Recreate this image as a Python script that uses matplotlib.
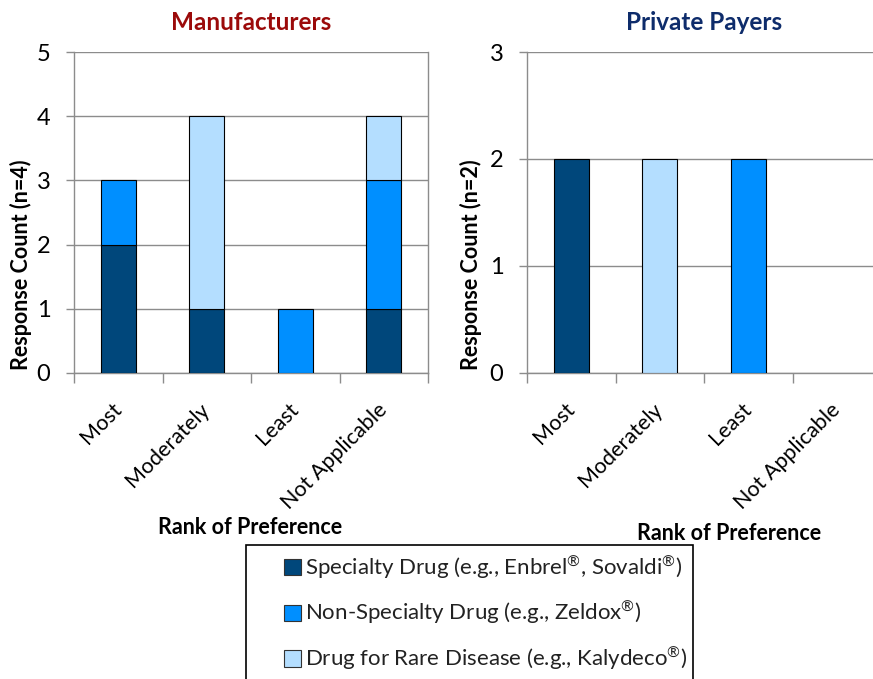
import numpy as np
import matplotlib.pyplot as plt
from matplotlib.patches import Patch, Rectangle

plt.rcParams['font.family'] = ['Lato', 'DejaVu Sans']
plt.rcParams['mathtext.fontset'] = 'custom'
plt.rcParams['mathtext.rm'] = 'Lato'

ranks = ["Most", "Moderately", "Least", "Not Applicable"]
series_names = [
    r"Specialty Drug (e.g., Enbrel$^{\mathrm{\circledR}}$, Sovaldi$^{\mathrm{\circledR}}$)",
    r"Non-Specialty Drug (e.g., Zeldox$^{\mathrm{\circledR}}$)",
    r"Drug for Rare Disease (e.g., Kalydeco$^{\mathrm{\circledR}}$)",
]
colors = ["#00477B", "#008FFF", "#B4DEFF"]

# Manufacturers (n=4)
mfr_specialty = [2, 1, 0, 1]
mfr_nonspecialty = [1, 0, 1, 2]
mfr_rare = [0, 3, 0, 1]

# Private payers (n=2)
pp_specialty = [2, 0, 0, 0]
pp_nonspecialty = [0, 0, 2, 0]
pp_rare = [0, 2, 0, 0]

grid_col = "#8C8C8C"


def stacked(ax, stacks, ymax, title, title_color, ylabel):
    x = np.arange(len(ranks))
    bottom = np.zeros(len(ranks))
    for vals, col in zip(stacks, colors):
        vals = np.array(vals, dtype=float)
        keep = vals > 0
        ax.bar(x[keep], vals[keep], 0.4, bottom=bottom[keep], color=col,
               edgecolor="black", linewidth=0.8, zorder=3)
        bottom += vals
    ax.set_xlim(-0.5, len(ranks) - 0.5)
    ax.set_ylim(0, ymax)
    ax.set_yticks(range(ymax + 1))
    ax.yaxis.grid(True, color=grid_col, linewidth=1, zorder=0)
    ax.set_xticks(x)
    ax.set_xticklabels(ranks, rotation=45, ha="right", va="center",
                       rotation_mode="anchor", fontsize=15.5)
    ax.set_xticks(np.arange(len(ranks) + 1) - 0.5, minor=True)
    ax.tick_params(axis="x", which="major", length=0, pad=24)
    ax.tick_params(axis="x", which="minor", length=7, color=grid_col, width=1)
    ax.tick_params(axis="y", length=6, color=grid_col, width=1, labelsize=17,
                   pad=11)
    ax.spines["top"].set_visible(False)
    for s in ["left", "right", "bottom"]:
        ax.spines[s].set_color(grid_col)
        ax.spines[s].set_linewidth(1)
    ax.set_title(title, color=title_color, fontsize=17.5, fontweight="bold", pad=16)
    ax.set_ylabel(ylabel, fontsize=15.5, fontweight="bold")


fig = plt.figure(figsize=(8.73, 6.79), dpi=100)
ax1 = fig.add_axes([0.0848, 0.4507, 0.4055, 0.4727])
ax2 = fig.add_axes([0.6037, 0.4507, 0.4055, 0.4727])

stacked(ax1, [mfr_specialty, mfr_nonspecialty, mfr_rare], 5,
        "Manufacturers", "#9B0A0A", "Response Count (n=4)")
stacked(ax2, [pp_specialty, pp_nonspecialty, pp_rare], 3,
        "Private Payers", "#0E2C6B", "Response Count (n=2)")
ax1.yaxis.set_label_coords(-0.12, 0.336)
ax2.yaxis.set_label_coords(-0.128, 0.336)

fig.text(250 / 873, 1 - 528 / 679, "Rank of Preference", ha="center",
         va="center", fontsize=15.5, fontweight="bold")
fig.text(729 / 873, 1 - 533 / 679, "Rank of Preference", ha="center",
         va="center", fontsize=15.5, fontweight="bold")

# legend box runs off the bottom edge of the figure
fig.patches.append(Rectangle((246 / 873, -0.05), (693 - 246) / 873,
                             1 - 545 / 679 + 0.05, transform=fig.transFigure,
                             facecolor="white", edgecolor="black",
                             linewidth=1.2, zorder=0))
handles = [Patch(facecolor=c, edgecolor="#333333", linewidth=0.8) for c in colors]
leg = fig.legend(handles, series_names, loc="upper left",
                 bbox_to_anchor=(284 / 873, 1 - 553 / 679), fontsize=16,
                 frameon=False, handlelength=0.75, handleheight=0.75,
                 handletextpad=0.2, labelspacing=0.82, borderpad=0,
                 borderaxespad=0)
for t in leg.get_texts():
    t.set_color("#222222")

fig.savefig("out.png", dpi=100)
